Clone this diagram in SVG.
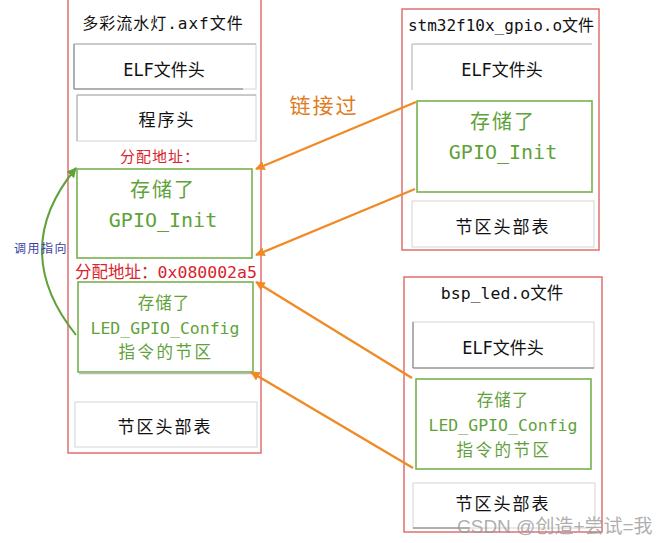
<svg xmlns="http://www.w3.org/2000/svg" width="669" height="543" viewBox="0 0 669 543">
<style>
.file{fill:#fff;stroke:#e07070;stroke-width:1.5}
.sub{fill:#fff;stroke:#d4d4d4;stroke-width:1}
.edge{fill:none;stroke:#777;stroke-width:1}
.gbox{fill:#fff;stroke:#76b14e;stroke-width:1.6}
.t{font-family:"DejaVu Sans Mono","Noto Sans CJK SC",monospace;text-anchor:middle;dominant-baseline:central}
.blk{fill:#111}
.grn{fill:#5fa23a}
.red{fill:#d8242c}
.conn{fill:none;stroke:#f08a24;stroke-width:2.4}
</style>
<defs>
<marker id="ao" viewBox="0 0 10 10" refX="9" refY="5" markerWidth="4" markerHeight="4" orient="auto" markerUnits="strokeWidth">
<path d="M0,0 L10,5 L0,10 z" fill="#f08a24"/>
</marker>
<marker id="ag" viewBox="0 0 10 10" refX="9" refY="5" markerWidth="5" markerHeight="5" orient="auto" markerUnits="strokeWidth">
<path d="M0,0 L10,5 L0,10 z" fill="#5fa23a"/>
</marker>
</defs>
<rect width="669" height="543" fill="#fff"/>

<g id="axf">
<rect class="file" x="68" y="-5" width="193" height="458"/>
<text class="t blk" x="163" y="23" font-size="16" letter-spacing="1">多彩流水灯.axf文件</text>
</g>
<g id="axf-elf">
<rect class="sub" x="74" y="44" width="182" height="45"/>
<path class="edge" d="M74,44 V89 H243"/>
<path d="M74,44 H256" stroke="#aaa" fill="none"/>
<text class="t blk" x="164" y="70" font-size="17">ELF文件头</text>
</g>
<g id="axf-prog">
<rect class="sub" x="77" y="95" width="179" height="46"/>
<path d="M77,95 V141 M77,95 H256" stroke="#aaa" fill="none"/>
<text class="t blk" x="167" y="120" font-size="17" letter-spacing="2">程序头</text>
</g>
<g id="addr1">
<text class="t red" x="160" y="157" font-size="15" letter-spacing="1">分配地址：</text>
</g>
<g id="axf-gpio">
<rect class="gbox" x="77" y="169" width="175" height="89"/>
<text class="t grn" x="163" y="190" font-size="20" letter-spacing="2">存储了</text>
<text class="t grn" x="163" y="220" font-size="20">GPIO_Init</text>
</g>
<g id="addr2">
<text class="t red" x="166" y="272" font-size="16.5">分配地址：0x080002a5</text>
</g>
<g id="axf-led">
<rect class="gbox" x="78" y="282" width="175" height="90"/>
<path d="M79,373.5 H253" stroke="#bbb" stroke-width="1.5" fill="none"/>
<text class="t grn" x="164" y="303" font-size="16.5" letter-spacing="1">存储了</text>
<text class="t grn" x="165" y="328" font-size="16.5">LED_GPIO_Config</text>
<text class="t grn" x="166" y="352" font-size="16.5" letter-spacing="2.5">指令的节区</text>
</g>
<g id="axf-sht">
<rect class="sub" x="75" y="402" width="182" height="45"/>
<text class="t blk" x="165" y="427" font-size="17" letter-spacing="2">节区头部表</text>
</g>

<g id="gpio-o">
<rect class="file" x="402" y="9" width="197" height="241" stroke="#e09090"/>
<text class="t blk" x="501" y="25" font-size="16">stm32f10x_gpio.o文件</text>
</g>
<g id="gpio-elf">
<path d="M412,90 V44 H592" stroke="#aaa" fill="none"/>
<text class="t blk" x="502" y="70" font-size="17">ELF文件头</text>
</g>
<g id="gpio-code">
<rect class="gbox" x="417" y="101" width="175" height="91"/>
<text class="t grn" x="503" y="122" font-size="20" letter-spacing="2">存储了</text>
<text class="t grn" x="503" y="152" font-size="20">GPIO_Init</text>
</g>
<g id="gpio-sht">
<rect class="sub" x="412" y="201" width="182" height="46"/>
<text class="t blk" x="503" y="227" font-size="17" letter-spacing="2">节区头部表</text>
</g>

<g id="led-o">
<rect class="file" x="404" y="277" width="198" height="255" stroke="#e09090"/>
<text class="t blk" x="502" y="293" font-size="16.5">bsp_led.o文件</text>
</g>
<g id="led-elf">
<rect class="sub" x="413" y="322" width="181" height="46" stroke="#eee"/>
<path class="edge" d="M413,322 V368 H594"/>
<text class="t blk" x="503" y="348" font-size="17">ELF文件头</text>
</g>
<g id="led-code">
<rect class="gbox" x="416" y="379" width="175" height="90"/>
<text class="t grn" x="503" y="400" font-size="16.5" letter-spacing="1">存储了</text>
<text class="t grn" x="503" y="425" font-size="16.5">LED_GPIO_Config</text>
<text class="t grn" x="504" y="450" font-size="16.5" letter-spacing="2.5">指令的节区</text>
</g>
<g id="led-sht">
<rect class="sub" x="413" y="483" width="182" height="45"/>
<path class="edge" d="M413,528 H470"/>
<text class="t blk" x="503" y="504" font-size="17" letter-spacing="2">节区头部表</text>
</g>

<g id="connectors">
<line class="conn" x1="416" y1="102" x2="256" y2="169" marker-end="url(#ao)"/>
<line class="conn" x1="415" y1="189" x2="256" y2="255" marker-end="url(#ao)"/>
<line class="conn" x1="412" y1="378" x2="256" y2="282" marker-end="url(#ao)"/>
<line class="conn" x1="413" y1="468" x2="251" y2="372" marker-end="url(#ao)"/>
<path d="M76,335 Q8,250 76,168" fill="none" stroke="#5fa23a" stroke-width="2" marker-end="url(#ag)"/>
</g>

<g id="labels">
<text class="t" x="324" y="106" font-size="21" letter-spacing="2" fill="#e07b20">链接过</text>
<text class="t" x="41" y="249" font-size="12" letter-spacing="1.5" fill="#3a3fa0">调用指向</text>
<text x="457" y="533" font-family="'Liberation Sans','Noto Sans CJK SC',sans-serif" font-size="19" fill="#999" fill-opacity="0.8">CSDN @创造+尝试=我</text>
</g>
</svg>
